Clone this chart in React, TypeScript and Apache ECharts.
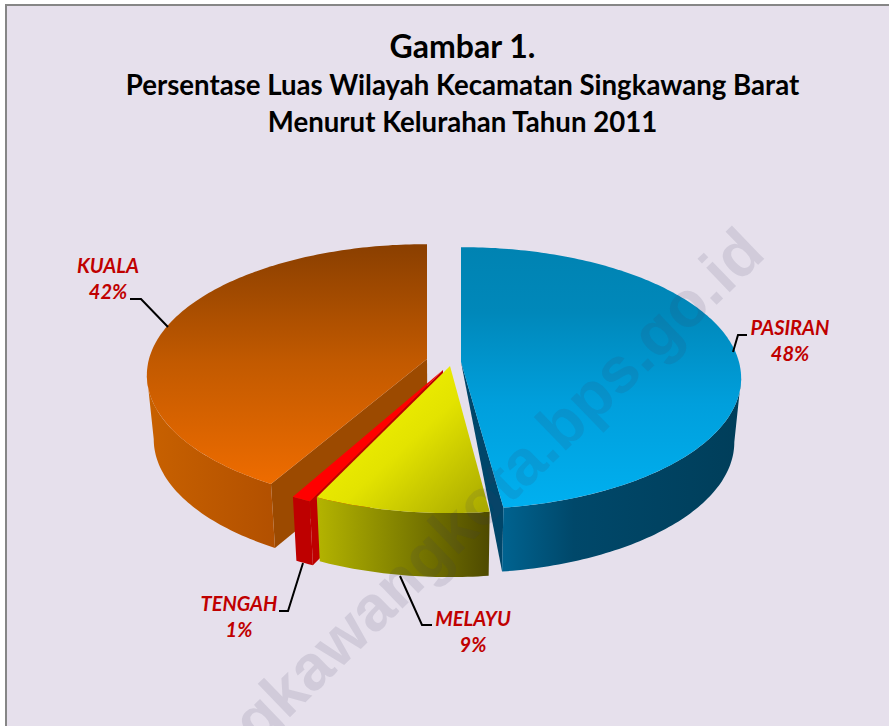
import React, { useEffect, useRef } from "react";
import * as echarts from "echarts";

const titleMain = "Gambar 1.";
const titleLine2 = "Persentase Luas Wilayah Kecamatan Singkawang Barat";
const titleLine3 = "Menurut Kelurahan Tahun 2011";
const watermark = "singkawangkota.bps.go.id";

// clockwise from 12 o'clock
const categories = ["PASIRAN", "MELAYU", "TENGAH", "KUALA"];
const shares = [48, 9, 1, 42];

const W = 889;
const H = 726;
const RX = 278;
const RY = 129;
const PERSP = 0.123;
const DEPTH = 64;
const VX = 445;
const SHRINK = 0.977;
const TANGENT_A = 97;
const TANGENT_B = 263;

const LG = (x: number, y: number, x2: number, y2: number, stops: [number, string][]) =>
  new echarts.graphic.LinearGradient(x, y, x2, y2, stops.map(([offset, color]) => ({ offset, color })));

type Look = {
  apex: [number, number];
  top: () => any;
  wall: () => any;
  inner?: { color: string; quad: boolean; side: "start" | "end" };
  trimStart?: number;
  trimEnd?: number;
  label: [number, number];
  leader: [number, number][];
  order: number;
};

const looks: Record<string, Look> = {
  PASIRAN: {
    apex: [461, 362],
    top: () => LG(0, 0, 0, 1, [[0, "#0083B2"], [0.25, "#0088BA"], [0.6, "#009FDC"], [1, "#00B0F0"]]),
    wall: () => LG(0, 0, 1, 0, [[0, "#006390"], [0.3, "#00486A"], [1, "#003E5A"]]),
    inner: { color: "#00466A", quad: false, side: "end" },
    trimEnd: 0.5,
    label: [790, 340],
    leader: [[733, 352], [738, 335], [747, 335]],
    order: 1,
  },
  MELAYU: {
    apex: [450, 366],
    top: () => LG(0.3, 0.35, 1, 1, [[0, "#EDED00"], [0.3, "#E3E300"], [1, "#A6A600"]]),
    wall: () => LG(0, 0, 1, 0, [[0, "#B4B400"], [0.5, "#808000"], [1, "#4E4A00"]]),
    label: [473, 631],
    leader: [[400, 576], [422, 625], [432, 625]],
    order: 3,
  },
  TENGAH: {
    apex: [443, 370],
    top: () => "#FF0000",
    wall: () => "#BE0000",
    inner: { color: "#BE0000", quad: true, side: "start" },
    label: [239, 616],
    leader: [[303, 563], [288, 611], [279, 611]],
    order: 2,
  },
  KUALA: {
    apex: [427, 359],
    top: () => LG(0, 0, 0, 1, [[0, "#8A3F00"], [0.5, "#C35A00"], [1, "#EE6C00"]]),
    wall: () => LG(0, 0, 1, 0, [[0, "#C86100"], [1, "#B25000"]]),
    inner: { color: "#9C4A00", quad: true, side: "start" },
    trimStart: 1.3,
    label: [108, 278],
    leader: [[130, 299], [141, 299], [168, 327]],
    order: 0,
  },
};

function rim(apex: [number, number], deg: number): [number, number] {
  const t = (deg * Math.PI) / 180;
  const X = Math.sin(t);
  const Y = -Math.cos(t);
  const s = 1 / (1 - PERSP * Y);
  return [apex[0] + RX * X * s, apex[1] + RY * Y * s];
}
const drop = (p: [number, number]): [number, number] => [VX + (p[0] - VX) * SHRINK, p[1] + DEPTH];

function arc(apex: [number, number], a: number, b: number) {
  const out: [number, number][] = [];
  const n = Math.max(2, Math.ceil(b - a));
  for (let i = 0; i <= n; i++) out.push(rim(apex, a + ((b - a) * i) / n));
  return out;
}

const total = shares.reduce((a, b) => a + b, 0);
const spans = categories.map((_, i) => {
  const before = shares.slice(0, i).reduce((a, b) => a + b, 0);
  return [(before / total) * 360, ((before + shares[i]) / total) * 360];
});

function renderSlice(params: any) {
  const i = params.dataIndex;
  const name = categories[i];
  const look = looks[name];
  const a = spans[i][0] + (look.trimStart || 0);
  const b = spans[i][1] - (look.trimEnd || 0);
  const children: any[] = [];
  if (look.inner) {
    const corner = rim(look.apex, look.inner.side === "end" ? b : a);
    const pts: [number, number][] = [look.apex, corner, drop(corner)];
    if (look.inner.quad) pts.push(drop(look.apex));
    children.push({ type: "polygon", shape: { points: pts }, style: { fill: look.inner.color } });
  }
  const va = Math.max(a, TANGENT_A);
  const vb = Math.min(b, TANGENT_B);
  if (vb > va) {
    const top = arc(look.apex, va, vb);
    children.push({
      type: "polygon",
      shape: { points: [...top, ...top.map(drop).reverse()] },
      style: { fill: look.wall(), stroke: null },
    });
  }
  children.push({
    type: "polygon",
    shape: { points: [look.apex, ...arc(look.apex, a, b)] },
    style: { fill: look.top() },
  });
  return { type: "group", children };
}

function renderLabel(params: any) {
  const i = params.dataIndex;
  const name = categories[i];
  const look = looks[name];
  return {
    type: "group",
    children: [
      {
        type: "polyline",
        shape: { points: look.leader },
        style: { stroke: "#000000", lineWidth: 2, fill: null },
      },
      {
        type: "text",
        x: look.label[0],
        y: look.label[1],
        style: {
          text: `${name}\n${shares[i]}%`,
          fill: "#C00000",
          font: "italic bold 20px Lato",
          lineHeight: 26,
          align: "center",
          verticalAlign: "middle",
        },
      },
    ],
  };
}

const titleEntry = (text: string, top: number, fontSize: number) => ({
  text,
  left: 457.5,
  top,
  textAlign: "center" as const,
  textStyle: { fontFamily: "Lato", fontWeight: "bold" as const, fontSize, color: "#000000" },
});

export default function App() {
  const ref = useRef<HTMLDivElement>(null);
  useEffect(() => {
    const chart = echarts.init(ref.current!, null, { renderer: "svg", width: W, height: H });
    const drawOrder = categories.map((_, i) => i).sort((x, y) => looks[categories[x]].order - looks[categories[y]].order);
    chart.setOption({
      animation: false,
      backgroundColor: "#FFFFFF",
      title: [titleEntry(titleMain, 24, 32), titleEntry(titleLine2, 65, 27.6), titleEntry(titleLine3, 102, 27.6)],
      graphic: [
        {
          type: "rect",
          z: -10,
          shape: { x: 6, y: 5, width: W + 20, height: H + 20 },
          style: { fill: "#E6E0EC", stroke: "#868686", lineWidth: 2 },
        },
        {
          type: "text",
          z: 100,
          x: 752,
          y: 240,
          rotation: (44 * Math.PI) / 180,
          style: {
            text: watermark,
            font: "bold 64px 'Liberation Sans'",
            fill: "rgba(60,60,90,0.12)",
            align: "right",
            verticalAlign: "middle",
          },
        },
      ],
      series: [
        ...drawOrder.map((idx, k) => ({
          type: "custom",
          coordinateSystem: "none",
          z: 2 + k,
          silent: true,
          data: categories.map((c, j) => ({ name: c, value: shares[j] })),
          renderItem: (p: any) => (p.dataIndex === idx ? renderSlice(p) : { type: "group", children: [] }),
        })),
        {
          type: "custom",
          coordinateSystem: "none",
          z: 20,
          silent: true,
          data: categories.map((c, j) => ({ name: c, value: shares[j] })),
          renderItem: renderLabel,
        },
      ],
    });
    return () => chart.dispose();
  }, []);
  return <div ref={ref} style={{ position: "fixed", left: 0, top: 0, width: W, height: H }} />;
}
